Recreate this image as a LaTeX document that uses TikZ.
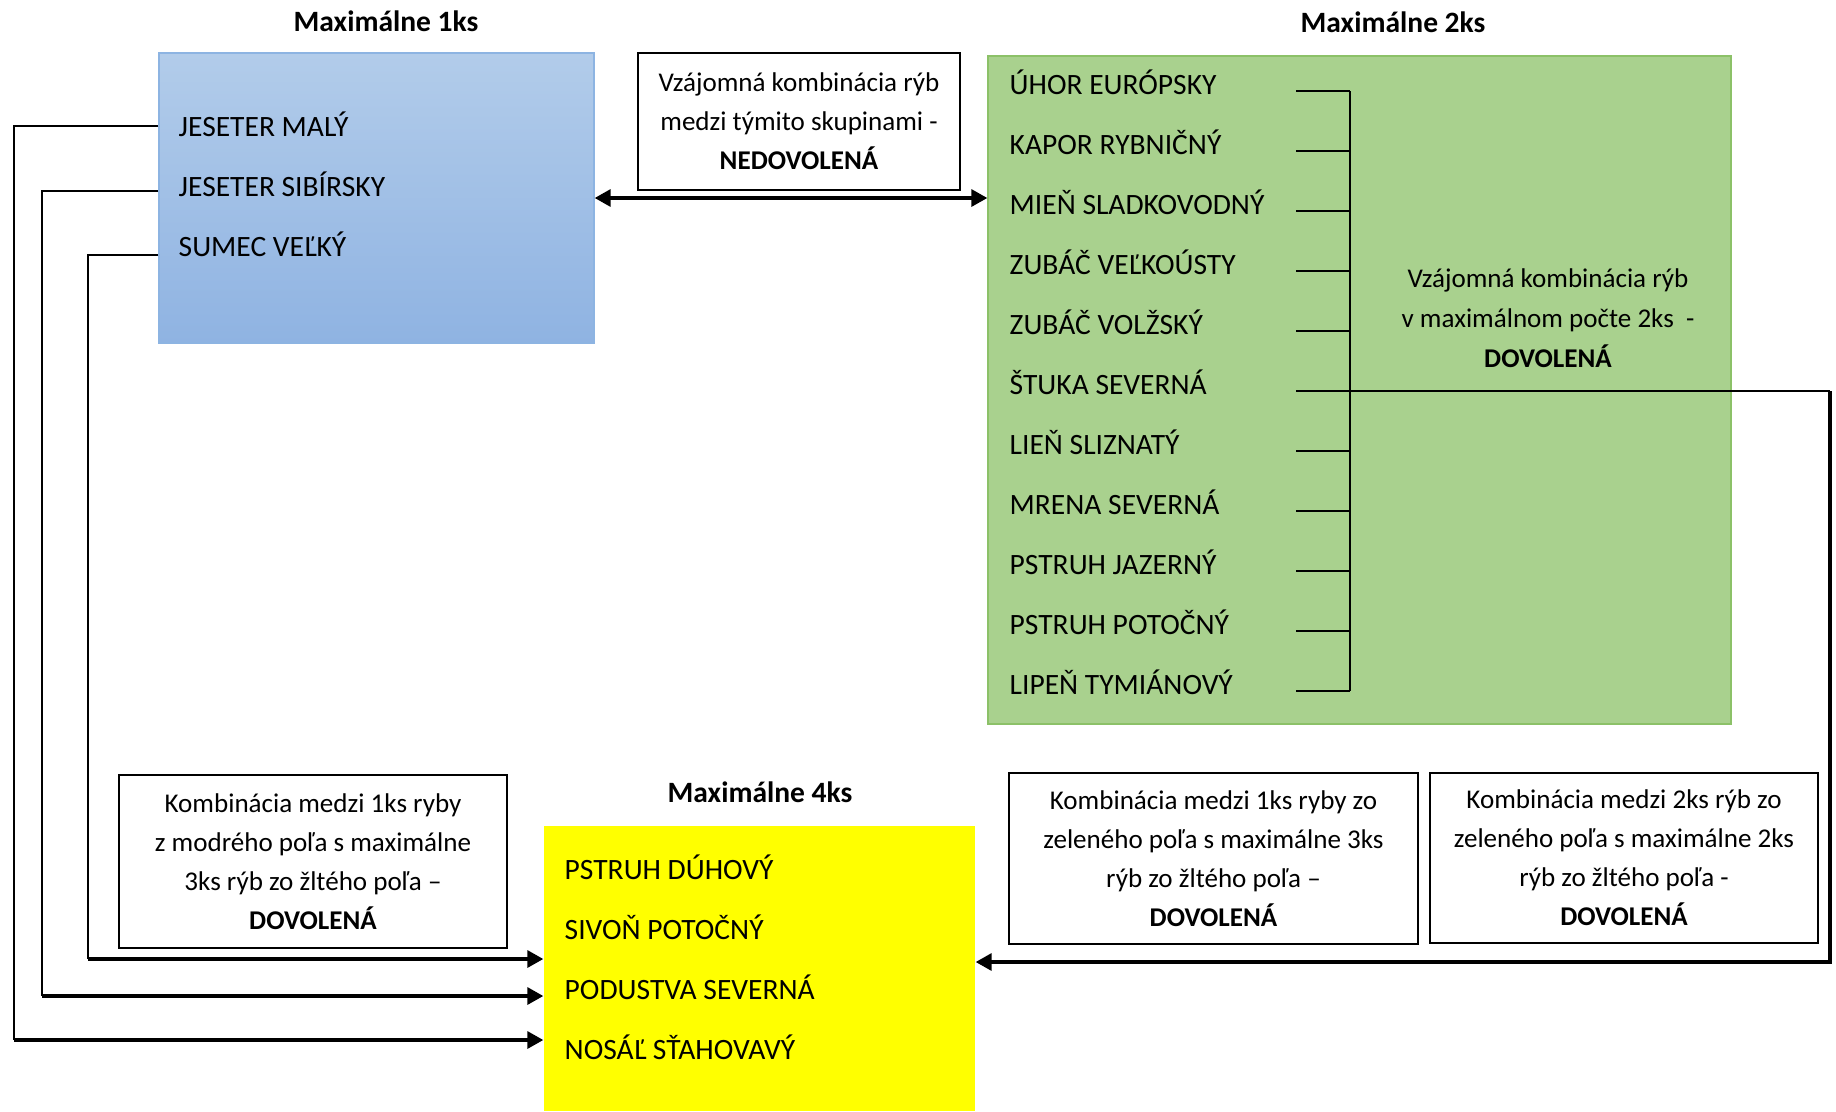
\documentclass[tikz,border=0pt]{standalone}
\usepackage{fontspec}
\setmainfont{Carlito}
\usetikzlibrary{arrows.meta, positioning}
\definecolor{fishblue}{HTML}{B2CCEA}
\definecolor{fishbluedark}{HTML}{8FB3E2}
\definecolor{fishblueline}{HTML}{8DB4E2}
\definecolor{fishgreen}{HTML}{A9D18E}
\definecolor{fishgreenline}{HTML}{8CC168}
\definecolor{fishyellow}{HTML}{FFFF00}

\begin{document}
\begin{tikzpicture}[
  every node/.style={font=\fontsize{8.4}{10}\selectfont},
  head/.style={font=\fontsize{8.4}{10}\selectfont\bfseries},
  fish/.style={anchor=west, inner sep=0pt, text height=6pt, text depth=0pt},
  rulebox/.style={rectangle, draw=black, line width=0.7pt, align=center, inner sep=0pt, font=\fontsize{7.7}{11.1}\selectfont},
  thinline/.style={draw=black, line width=0.45pt},
  arrowline/.style={draw=black, line width=0.9pt, -{Triangle[length=4.5pt, width=4.8pt]}},
]
\useasboundingbox (0,0) rectangle (18.36,-11.11);

% Headers
\node[head] (h1) at (3.86,-0.21) {Maximálne 1ks};
\node[head] (h2) at (13.93,-0.22) {Maximálne 2ks};
\node[head] (h4) at (7.60,-7.92) {Maximálne 4ks};

% Blue group
\node[rectangle, top color=fishblue, bottom color=fishbluedark, draw=fishblueline, line width=0.4pt, minimum width=4.35cm, minimum height=2.90cm] (blue) at (3.765,-1.98) {};
\node[fish] (b1) at (1.78,-1.26) {JESETER MALÝ};
\node[fish] (b2) at (1.78,-1.86) {JESETER SIBÍRSKY};
\node[fish] (b3) at (1.78,-2.46) {SUMEC VEĽKÝ};

% Green group
\node[rectangle, fill=fishgreen, draw=fishgreenline, line width=0.4pt, minimum width=7.43cm, minimum height=6.68cm] (green) at (13.595,-3.90) {};
\foreach \name [count=\i] in {ÚHOR EURÓPSKY, KAPOR RYBNIČNÝ, MIEŇ SLADKOVODNÝ, ZUBÁČ VEĽKOÚSTY, ZUBÁČ VOLŽSKÝ, ŠTUKA SEVERNÁ, LIEŇ SLIZNATÝ, MRENA SEVERNÁ, PSTRUH JAZERNÝ, PSTRUH POTOČNÝ, LIPEŇ TYMIÁNOVÝ}
  \node[fish] (g\i) at (10.09,{-0.84-0.6*(\i-1)}) {\name};
\node[align=center, font=\fontsize{7.7}{11.4}\selectfont] (gnote) at (15.48,-3.18) {Vzájomná kombinácia rýb\\v maximálnom počte 2ks~~-\\\textbf{DOVOLENÁ}};

% Yellow group
\node[rectangle, fill=fishyellow, minimum width=4.31cm, minimum height=2.85cm] (yellow) at (7.595,-9.685) {};
\foreach \name [count=\i] in {PSTRUH DÚHOVÝ, SIVOŇ POTOČNÝ, PODUSTVA SEVERNÁ, NOSÁĽ SŤAHOVAVÝ}
  \node[fish] (y\i) at (5.64,{-8.69-0.6*(\i-1)}) {\name};

% Rule boxes
\node[rulebox, minimum width=3.22cm, minimum height=1.37cm] (nedov) at (7.99,-1.215) {Vzájomná kombinácia rýb\\medzi týmito skupinami -\\\textbf{NEDOVOLENÁ}};
\node[rulebox, minimum width=3.88cm, minimum height=1.73cm] (rblue) at (3.13,-8.615) {Kombinácia medzi 1ks ryby\\z modrého poľa s maximálne\\3ks rýb zo žltého poľa –\\\textbf{DOVOLENÁ}};
\node[rulebox, minimum width=4.09cm, minimum height=1.71cm] (rgreen1) at (12.135,-8.585) {Kombinácia medzi 1ks ryby zo\\zeleného poľa s maximálne 3ks\\rýb zo žltého poľa –\\\textbf{DOVOLENÁ}};
\node[rulebox, minimum width=3.88cm, minimum height=1.70cm] (rgreen2) at (16.24,-8.58) {Kombinácia medzi 2ks rýb zo\\zeleného poľa s maximálne 2ks\\rýb zo žltého poľa -\\\textbf{DOVOLENÁ}};

% Bracket on green list
\coordinate (brkL) at (12.96,0);
\coordinate (brkR) at (13.50,0);
\coordinate (rx) at (18.30,0);
\foreach \i in {1,...,11}
  \draw[thinline] ([yshift=-2pt]g\i.west -| brkL) -- ([yshift=-2pt]g\i.west -| brkR);
\draw[thinline] ([yshift=-2pt]g1.west -| brkR) -- ([yshift=-2pt]g11.west -| brkR);

% Blue <-> green
\draw[arrowline, {Triangle[length=4.5pt, width=4.8pt]}-{Triangle[length=4.5pt, width=4.8pt]}] (blue.east) -- (blue.east -| green.west);

% Blue -> yellow
\coordinate (c1) at (0.14,-10.40);
\coordinate (c2) at (0.42,-9.96);
\coordinate (c3) at (0.88,-9.59);
\draw[thinline] (b1.west -| blue.west) -| (c1);
\draw[thinline] ([yshift=-1.5pt]b2.west -| blue.west) -| (c2);
\draw[thinline] ([yshift=-2.5pt]b3.west -| blue.west) -| (c3);
\draw[arrowline] (c1) -- (c1 -| yellow.west);
\draw[arrowline] (c2) -- (c2 -| yellow.west);
\draw[arrowline] (c3) -- (c3 -| yellow.west);

% Green -> yellow
\coordinate (r2) at (18.30,-9.62);
\draw[thinline] ([yshift=-2pt]g6.west -| brkL) -- ([yshift=-2pt]g6.west -| rx);
\draw[arrowline] ([yshift=-2pt]g6.west -| rx) -- (r2) -- (r2 -| yellow.east);

\end{tikzpicture}
\end{document}
